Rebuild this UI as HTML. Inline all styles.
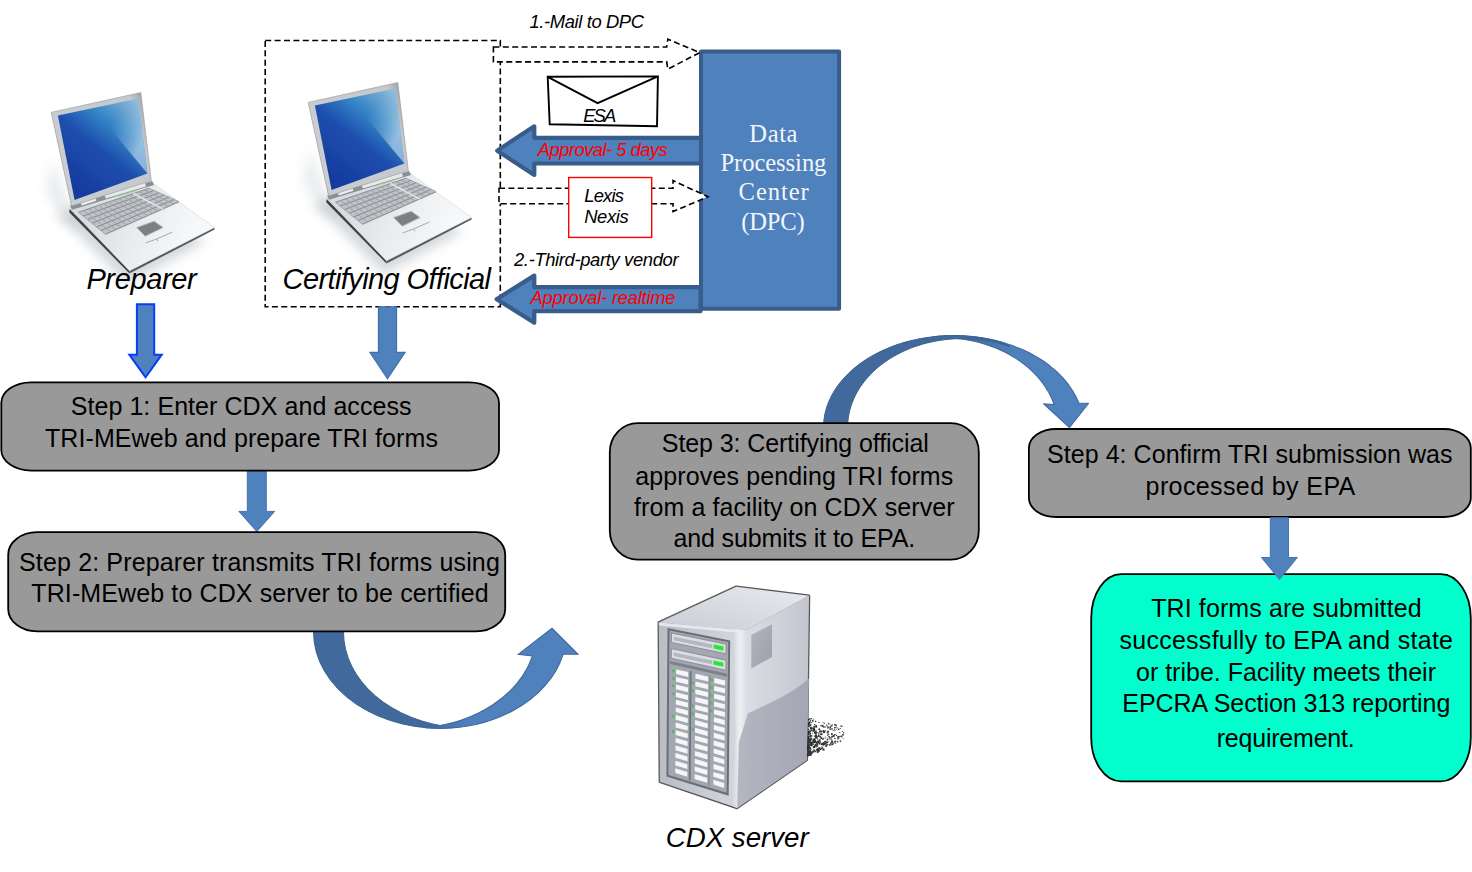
<!DOCTYPE html>
<html><head><meta charset="utf-8"><title>TRI-MEweb certification flow</title>
<style>html,body{margin:0;padding:0;background:#fff}svg{display:block}</style></head>
<body>
<svg width="1472" height="872" viewBox="0 0 1472 872">

<defs>
<filter id="blur6" x="-30%" y="-30%" width="160%" height="160%"><feGaussianBlur stdDeviation="6"/></filter>
<filter id="blur04" x="-5%" y="-5%" width="110%" height="110%"><feGaussianBlur stdDeviation=".45"/></filter>
<filter id="blur03" x="-20%" y="-20%" width="140%" height="140%"><feGaussianBlur stdDeviation=".35"/></filter>
<filter id="blur1" x="-10%" y="-10%" width="120%" height="120%"><feGaussianBlur stdDeviation=".5"/></filter>
<filter id="blur07" x="-10%" y="-10%" width="120%" height="120%"><feGaussianBlur stdDeviation=".7"/></filter>
<linearGradient id="lapBase" gradientUnits="userSpaceOnUse" x1="345" y1="200" x2="440" y2="245">
 <stop offset="0" stop-color="#d9dcdf"/><stop offset=".5" stop-color="#e9ebed"/><stop offset="1" stop-color="#f7f8f9"/></linearGradient>
<linearGradient id="lapEdgeL" gradientUnits="userSpaceOnUse" x1="326" y1="197" x2="389" y2="262">
 <stop offset="0" stop-color="#b5b9bd"/><stop offset="1" stop-color="#6d7074"/></linearGradient>
<linearGradient id="lapLid" gradientUnits="userSpaceOnUse" x1="308" y1="150" x2="408" y2="120">
 <stop offset="0" stop-color="#9da2a7"/><stop offset=".08" stop-color="#c9cdd0"/><stop offset=".9" stop-color="#c5c9cd"/><stop offset="1" stop-color="#a4a9ae"/></linearGradient>
<linearGradient id="lapScr" gradientUnits="userSpaceOnUse" x1="335" y1="178" x2="400" y2="95">
 <stop offset="0" stop-color="#173b9f"/><stop offset=".42" stop-color="#1d4fae"/><stop offset=".68" stop-color="#3585c6"/><stop offset="1" stop-color="#8dbad8"/></linearGradient>
<linearGradient id="lapGl" gradientUnits="userSpaceOnUse" x1="370" y1="110" x2="402" y2="125">
 <stop offset="0" stop-color="#7fb4d8" stop-opacity="0"/><stop offset="1" stop-color="#cfe4f1" stop-opacity="1"/></linearGradient>
<linearGradient id="srvFront" x1="0" y1="0" x2="1" y2="0"><stop offset="0" stop-color="#b9bdc6"/><stop offset="1" stop-color="#d4d7de"/></linearGradient>
<linearGradient id="srvTop" x1="0" y1="1" x2="1" y2="0"><stop offset="0" stop-color="#c9ccd4"/><stop offset="1" stop-color="#e8eaee"/></linearGradient>
<linearGradient id="srvSide" x1="0" y1="0" x2="1" y2="0"><stop offset="0" stop-color="#dfe1e7"/><stop offset="1" stop-color="#c3c6cf"/></linearGradient>
<linearGradient id="srvSide2" x1="0" y1="0" x2="1" y2="0"><stop offset="0" stop-color="#b4b7c2"/><stop offset="1" stop-color="#a4a7b3"/></linearGradient>
<linearGradient id="srvVent" x1="0" y1="0" x2="1" y2="1"><stop offset="0" stop-color="#b3b5be"/><stop offset="1" stop-color="#9c9ea8"/></linearGradient>
<linearGradient id="srvBev" x1="0" y1="0" x2="1" y2="0"><stop offset="0" stop-color="#d3d6dc"/><stop offset=".5" stop-color="#eff0f3"/><stop offset="1" stop-color="#d9dbe1"/></linearGradient>
<linearGradient id="cdGrad" gradientUnits="userSpaceOnUse" x1="965" y1="0" x2="1015" y2="0"><stop offset="0" stop-color="#41699c"/><stop offset="1" stop-color="#4f81bd"/></linearGradient>
<linearGradient id="cuGrad" gradientUnits="userSpaceOnUse" x1="420" y1="0" x2="470" y2="0"><stop offset="0" stop-color="#41699c"/><stop offset="1" stop-color="#4f81bd"/></linearGradient>
</defs>

<rect width="1472" height="872" fill="#fff"/>
<rect x="265.2" y="40.5" width="235.1" height="266.3" fill="none" stroke="#000" stroke-width="1.6" stroke-dasharray="6 3.4"/>
<g transform="translate(-257,10)" filter="url(#blur03)">
<polygon points="314,203 384,274 462,232 400,186" fill="#8d98a3" opacity=".38" filter="url(#blur6)"/>
<polygon points="310,150 328,198 346,215 322,215 303,180" fill="#9aa4ad" opacity=".22" filter="url(#blur6)"/>
<polygon points="326.7,199 386.5,260.8 386.5,263.6 326.2,202.2" fill="#3f4144"/>
<polygon points="386.5,260.8 471.4,217.4 471.6,219.4 386.5,263.6" fill="#55585c"/>
<polygon points="326.7,198 410.4,173.5 471.4,217.4 386.5,260.8" fill="url(#lapBase)" stroke="#d2d5d8" stroke-width=".6"/>
<polygon points="335.5,202.2 406.0,178.2 436.0,191.7 362.5,224.3" fill="#bfc3c7"/>
<line x1="335.5" y1="202.2" x2="406.0" y2="178.2" stroke="#8b9095" stroke-width="1.1"/>
<line x1="340.0" y1="205.9" x2="411.0" y2="180.4" stroke="#8b9095" stroke-width="1.1"/>
<line x1="344.5" y1="209.6" x2="416.0" y2="182.7" stroke="#8b9095" stroke-width="1.1"/>
<line x1="349.0" y1="213.2" x2="421.0" y2="184.9" stroke="#8b9095" stroke-width="1.1"/>
<line x1="353.5" y1="216.9" x2="426.0" y2="187.2" stroke="#8b9095" stroke-width="1.1"/>
<line x1="358.0" y1="220.6" x2="431.0" y2="189.4" stroke="#8b9095" stroke-width="1.1"/>
<line x1="362.5" y1="224.3" x2="436.0" y2="191.7" stroke="#8b9095" stroke-width="1.1"/>
<line x1="335.5" y1="202.2" x2="362.5" y2="224.3" stroke="#9a9fa4" stroke-width=".9"/>
<line x1="340.5" y1="200.5" x2="367.8" y2="222.0" stroke="#9a9fa4" stroke-width=".9"/>
<line x1="345.6" y1="198.8" x2="373.0" y2="219.6" stroke="#9a9fa4" stroke-width=".9"/>
<line x1="350.6" y1="197.1" x2="378.2" y2="217.3" stroke="#9a9fa4" stroke-width=".9"/>
<line x1="355.6" y1="195.3" x2="383.5" y2="215.0" stroke="#9a9fa4" stroke-width=".9"/>
<line x1="360.7" y1="193.6" x2="388.8" y2="212.7" stroke="#9a9fa4" stroke-width=".9"/>
<line x1="365.7" y1="191.9" x2="394.0" y2="210.3" stroke="#9a9fa4" stroke-width=".9"/>
<line x1="370.8" y1="190.2" x2="399.2" y2="208.0" stroke="#9a9fa4" stroke-width=".9"/>
<line x1="375.8" y1="188.5" x2="404.5" y2="205.7" stroke="#9a9fa4" stroke-width=".9"/>
<line x1="380.8" y1="186.8" x2="409.8" y2="203.3" stroke="#9a9fa4" stroke-width=".9"/>
<line x1="385.9" y1="185.1" x2="415.0" y2="201.0" stroke="#9a9fa4" stroke-width=".9"/>
<line x1="390.9" y1="183.3" x2="420.2" y2="198.7" stroke="#9a9fa4" stroke-width=".9"/>
<line x1="395.9" y1="181.6" x2="425.5" y2="196.4" stroke="#9a9fa4" stroke-width=".9"/>
<line x1="401.0" y1="179.9" x2="430.8" y2="194.0" stroke="#9a9fa4" stroke-width=".9"/>
<line x1="406.0" y1="178.2" x2="436.0" y2="191.7" stroke="#9a9fa4" stroke-width=".9"/>
<line x1="390.5" y1="183.5" x2="419.8" y2="198.9" stroke="#e3e5e8" stroke-width="1.6"/>
<polygon points="393.6,217.6 411.2,211.2 420,217.6 402.2,226.2" fill="#7b8083" stroke="#b4b8bb" stroke-width=".9"/>
<path d="M402.5,233 l11,-4 l1.5,2.2 M413.5,229 l16,-7" stroke="#a6aaae" stroke-width="1" fill="none"/>
<polygon points="327,195.5 409.2,171 411,175 329,199.8" fill="#8a8f94"/>
<polygon points="337.5,192 352.5,187.6 353.3,190.8 338.8,195.4" fill="#eceef0"/>
<polygon points="361.5,185 402,173 403,176.4 362.8,188.6" fill="#e6e8ea"/>
<polygon points="374,185.4 394,179.4 394.4,181 374.6,187" fill="#7fd07a" opacity=".55"/>
<polygon points="308.2,102.4 397.8,82.6 408.3,170.5 328.6,196" fill="url(#lapLid)" stroke="#9a9fa4" stroke-width=".7"/>
<polygon points="314.9,105.6 395.4,88.4 404.4,163.5 331.6,190" fill="url(#lapScr)"/>
<polygon points="404.4,163.5 395.4,88.4 350,98" fill="url(#lapGl)" opacity=".6"/>
</g>
<g transform="translate(0,0)" filter="url(#blur03)">
<polygon points="314,203 384,274 462,232 400,186" fill="#8d98a3" opacity=".38" filter="url(#blur6)"/>
<polygon points="310,150 328,198 346,215 322,215 303,180" fill="#9aa4ad" opacity=".22" filter="url(#blur6)"/>
<polygon points="326.7,199 386.5,260.8 386.5,263.6 326.2,202.2" fill="#3f4144"/>
<polygon points="386.5,260.8 471.4,217.4 471.6,219.4 386.5,263.6" fill="#55585c"/>
<polygon points="326.7,198 410.4,173.5 471.4,217.4 386.5,260.8" fill="url(#lapBase)" stroke="#d2d5d8" stroke-width=".6"/>
<polygon points="335.5,202.2 406.0,178.2 436.0,191.7 362.5,224.3" fill="#bfc3c7"/>
<line x1="335.5" y1="202.2" x2="406.0" y2="178.2" stroke="#8b9095" stroke-width="1.1"/>
<line x1="340.0" y1="205.9" x2="411.0" y2="180.4" stroke="#8b9095" stroke-width="1.1"/>
<line x1="344.5" y1="209.6" x2="416.0" y2="182.7" stroke="#8b9095" stroke-width="1.1"/>
<line x1="349.0" y1="213.2" x2="421.0" y2="184.9" stroke="#8b9095" stroke-width="1.1"/>
<line x1="353.5" y1="216.9" x2="426.0" y2="187.2" stroke="#8b9095" stroke-width="1.1"/>
<line x1="358.0" y1="220.6" x2="431.0" y2="189.4" stroke="#8b9095" stroke-width="1.1"/>
<line x1="362.5" y1="224.3" x2="436.0" y2="191.7" stroke="#8b9095" stroke-width="1.1"/>
<line x1="335.5" y1="202.2" x2="362.5" y2="224.3" stroke="#9a9fa4" stroke-width=".9"/>
<line x1="340.5" y1="200.5" x2="367.8" y2="222.0" stroke="#9a9fa4" stroke-width=".9"/>
<line x1="345.6" y1="198.8" x2="373.0" y2="219.6" stroke="#9a9fa4" stroke-width=".9"/>
<line x1="350.6" y1="197.1" x2="378.2" y2="217.3" stroke="#9a9fa4" stroke-width=".9"/>
<line x1="355.6" y1="195.3" x2="383.5" y2="215.0" stroke="#9a9fa4" stroke-width=".9"/>
<line x1="360.7" y1="193.6" x2="388.8" y2="212.7" stroke="#9a9fa4" stroke-width=".9"/>
<line x1="365.7" y1="191.9" x2="394.0" y2="210.3" stroke="#9a9fa4" stroke-width=".9"/>
<line x1="370.8" y1="190.2" x2="399.2" y2="208.0" stroke="#9a9fa4" stroke-width=".9"/>
<line x1="375.8" y1="188.5" x2="404.5" y2="205.7" stroke="#9a9fa4" stroke-width=".9"/>
<line x1="380.8" y1="186.8" x2="409.8" y2="203.3" stroke="#9a9fa4" stroke-width=".9"/>
<line x1="385.9" y1="185.1" x2="415.0" y2="201.0" stroke="#9a9fa4" stroke-width=".9"/>
<line x1="390.9" y1="183.3" x2="420.2" y2="198.7" stroke="#9a9fa4" stroke-width=".9"/>
<line x1="395.9" y1="181.6" x2="425.5" y2="196.4" stroke="#9a9fa4" stroke-width=".9"/>
<line x1="401.0" y1="179.9" x2="430.8" y2="194.0" stroke="#9a9fa4" stroke-width=".9"/>
<line x1="406.0" y1="178.2" x2="436.0" y2="191.7" stroke="#9a9fa4" stroke-width=".9"/>
<line x1="390.5" y1="183.5" x2="419.8" y2="198.9" stroke="#e3e5e8" stroke-width="1.6"/>
<polygon points="393.6,217.6 411.2,211.2 420,217.6 402.2,226.2" fill="#7b8083" stroke="#b4b8bb" stroke-width=".9"/>
<path d="M402.5,233 l11,-4 l1.5,2.2 M413.5,229 l16,-7" stroke="#a6aaae" stroke-width="1" fill="none"/>
<polygon points="327,195.5 409.2,171 411,175 329,199.8" fill="#8a8f94"/>
<polygon points="337.5,192 352.5,187.6 353.3,190.8 338.8,195.4" fill="#eceef0"/>
<polygon points="361.5,185 402,173 403,176.4 362.8,188.6" fill="#e6e8ea"/>
<polygon points="374,185.4 394,179.4 394.4,181 374.6,187" fill="#7fd07a" opacity=".55"/>
<polygon points="308.2,102.4 397.8,82.6 408.3,170.5 328.6,196" fill="url(#lapLid)" stroke="#9a9fa4" stroke-width=".7"/>
<polygon points="314.9,105.6 395.4,88.4 404.4,163.5 331.6,190" fill="url(#lapScr)"/>
<polygon points="404.4,163.5 395.4,88.4 350,98" fill="url(#lapGl)" opacity=".6"/>
</g>
<text x="86.4" y="289.2" font-family="'Liberation Sans','DejaVu Sans',sans-serif" font-size="29" font-style="italic" fill="#000" textLength="110.2" lengthAdjust="spacing">Preparer</text>
<text x="282.6" y="289.2" font-family="'Liberation Sans','DejaVu Sans',sans-serif" font-size="29" font-style="italic" fill="#000" textLength="208.4" lengthAdjust="spacing">Certifying Official</text>
<path d="M497.2,150.65 L534.3,126.35000000000001 L534.3,137.8 L702,137.8 L702,163.5 L534.3,163.5 L534.3,174.95000000000002 Z" fill="#4f81bd" stroke="#385d8a" stroke-width="4.2" stroke-linejoin="round"/>
<rect x="701" y="51.6" width="138.1" height="257.1" fill="#4f81bd" stroke="#385d8a" stroke-width="4" stroke-linejoin="round"/>
<path d="M496.6,299.2 L534.3,275.59999999999997 L534.3,287.2 L700.5,287.2 L700.5,311.2 L534.3,311.2 L534.3,322.8 Z" fill="#4f81bd" stroke="#385d8a" stroke-width="4.2" stroke-linejoin="round"/>
<text x="749.3" y="141.6" font-family="'Liberation Serif','DejaVu Serif',serif" font-size="24.6" font-style="normal" fill="#f4f6fa" textLength="48.2" lengthAdjust="spacing">Data</text>
<text x="720.4" y="171.0" font-family="'Liberation Serif','DejaVu Serif',serif" font-size="24.6" font-style="normal" fill="#f4f6fa" textLength="106.0" lengthAdjust="spacing">Processing</text>
<text x="738.6" y="200.2" font-family="'Liberation Serif','DejaVu Serif',serif" font-size="24.6" font-style="normal" fill="#f4f6fa" textLength="70.1" lengthAdjust="spacing">Center</text>
<text x="741.3" y="229.6" font-family="'Liberation Serif','DejaVu Serif',serif" font-size="24.6" font-style="normal" fill="#f4f6fa" textLength="63.4" lengthAdjust="spacing">(DPC)</text>
<path d="M493.4,47 L666.7,47 L667.8,39.2 L699.8,52.6 L667.8,69.1 L666.7,61.9 L493.4,61.9 Z" fill="#fff" stroke="#000" stroke-width="1.6" stroke-dasharray="6 3.4"/>
<path d="M499,188.3 L673,188.3 L673,180.6 L708,196.7 L673,211.6 L673,203.7 L499,203.7 Z" fill="#fff" stroke="#000" stroke-width="1.6" stroke-dasharray="6 3.4"/>
<rect x="568.7" y="177.5" width="83" height="59.9" fill="#fff" stroke="#f00" stroke-width="1.4"/>
<text x="584.2" y="201.9" font-family="'Liberation Sans','DejaVu Sans',sans-serif" font-size="18.4" font-style="italic" fill="#000" textLength="39.8" lengthAdjust="spacing">Lexis</text>
<text x="584.2" y="222.9" font-family="'Liberation Sans','DejaVu Sans',sans-serif" font-size="18.4" font-style="italic" fill="#000" textLength="44.4" lengthAdjust="spacing">Nexis</text>
<path d="M547.7,76.8 L657.9,76.4 L657,126.3 L549.7,124.2 Z M547.7,76.8 L597.6,103.2 L657.9,76.4" fill="#fff" stroke="#000" stroke-width="1.9" stroke-linejoin="miter"/>
<text x="583.2" y="121.7" font-family="'Liberation Sans','DejaVu Sans',sans-serif" font-size="18.4" font-style="italic" fill="#000" textLength="33.0" lengthAdjust="spacing">ESA</text>
<text x="529.5" y="27.9" font-family="'Liberation Sans','DejaVu Sans',sans-serif" font-size="18.4" font-style="italic" fill="#000" textLength="114.5" lengthAdjust="spacing">1.-Mail to DPC</text>
<text x="514.0" y="265.7" font-family="'Liberation Sans','DejaVu Sans',sans-serif" font-size="18.4" font-style="italic" fill="#000" textLength="164.5" lengthAdjust="spacing">2.-Third-party vendor</text>
<text x="537.8" y="155.8" font-family="'Liberation Sans','DejaVu Sans',sans-serif" font-size="18.4" font-style="italic" fill="#f00" textLength="130.0" lengthAdjust="spacing">Approval- 5 days</text>
<text x="530.6" y="304.2" font-family="'Liberation Sans','DejaVu Sans',sans-serif" font-size="18.4" font-style="italic" fill="#f00" textLength="145.0" lengthAdjust="spacing">Approval- realtime</text>
<path d="M136.9,304.2 L154.20000000000002,304.2 L154.20000000000002,354.7 L161.75,354.7 L145.55,377.4 L129.35000000000002,354.7 L136.9,354.7 Z" fill="#4f81bd" stroke="#0a3cff" stroke-width="2"/>
<path d="M378.5,306.8 L396.5,306.8 L396.5,352.3 L405.0,352.3 L387.5,378.6 L370.0,352.3 L378.5,352.3 Z" fill="#4f81bd" stroke="#4272ae" stroke-width="1.3"/>
<path d="M247.3,470.5 L266.3,470.5 L266.3,511.4 L274.7,511.4 L256.8,531.6 L238.9,511.4 L247.3,511.4 Z" fill="#4f81bd" stroke="#4473ad" stroke-width="1"/>
<path d="M313.5,632.0 A126.5,96.3 0 0 0 455.0,727.6 A126.5,96.3 0 0 1 343.5,632.0 Z" fill="#41699c" stroke="#3c6191" stroke-width="1"/>
<path d="M425.0,727.6 A126.5,96.3 0 0 0 563.1,654.3 L578,654.3 L552,628.3 L518.3,654.3 L532.5,656.0 A126.5,96.3 0 0 1 425.0,727.6 Z" fill="url(#cuGrad)" stroke="#416a9e" stroke-width="1.1"/>
<path d="M937.7,336.3 L941.5,336.0 L945.3,335.8 L949.2,335.7 L953.0,335.6 L956.9,335.6 L960.7,335.7 L964.6,335.9 L968.4,336.2 L972.2,336.6 L976.0,337.0 L979.8,337.5 L983.6,338.1 L987.3,338.8 L991.0,339.5 L994.7,340.3 L998.3,341.2 L1001.9,342.2 L1005.5,343.3 L1009.0,344.4 L1012.4,345.6 L1015.8,346.9 L1019.2,348.2 L1022.5,349.6 L1025.7,351.1 L1028.9,352.6 L1032.0,354.3 L1035.0,355.9 L1038.0,357.7 L1040.9,359.5 L1043.7,361.3 L1046.4,363.3 L1049.1,365.2 L1051.6,367.3 L1054.1,369.4 L1056.5,371.5 L1058.8,373.7 L1061.0,375.9 L1063.2,378.2 L1065.2,380.5 L1067.1,382.9 L1068.9,385.3 L1070.6,387.7 L1072.3,390.2 L1073.8,392.7 L1075.2,395.2 L1076.5,397.8 L1077.7,400.4 L1078.8,403.0 L1088.5,403.3 L1069.5,427.5 L1043.6,403.9 L1054.1,404.5 L1053.1,401.9 L1052.1,399.3 L1050.9,396.8 L1049.7,394.3 L1048.4,391.8 L1046.9,389.4 L1045.4,387.0 L1043.8,384.6 L1042.0,382.2 L1040.2,379.9 L1038.3,377.7 L1036.4,375.5 L1034.3,373.3 L1032.1,371.2 L1029.9,369.1 L1027.6,367.1 L1025.2,365.1 L1022.8,363.2 L1020.2,361.4 L1017.6,359.6 L1014.9,357.9 L1012.2,356.2 L1009.4,354.6 L1006.5,353.0 L1003.6,351.6 L1000.6,350.2 L997.6,348.8 L994.5,347.6 L991.4,346.4 L988.2,345.3 L985.0,344.2 L981.7,343.2 L978.4,342.3 L975.1,341.5 L971.8,340.8 L968.4,340.1 L965.0,339.5 L961.5,339.0 L958.1,338.6 L954.6,338.2 L951.2,337.9 L947.7,337.7 L944.2,337.6 L940.7,337.6 L937.2,337.6 L933.7,337.8 L930.2,338.0 L926.7,338.3 Z" fill="url(#cdGrad)" stroke="#416a9e" stroke-width="1.1" stroke-linejoin="round"/>
<path d="M823.6,425.0 L823.8,421.3 L824.3,417.6 L824.9,414.0 L825.8,410.3 L826.9,406.7 L828.2,403.1 L829.7,399.6 L831.4,396.1 L833.2,392.7 L835.3,389.3 L837.6,386.0 L840.0,382.7 L842.7,379.5 L845.5,376.4 L848.5,373.4 L851.6,370.4 L855.0,367.6 L858.4,364.8 L862.1,362.2 L865.9,359.6 L869.8,357.2 L873.8,354.9 L878.0,352.7 L882.3,350.6 L886.8,348.7 L891.3,346.8 L895.9,345.1 L900.6,343.5 L905.4,342.1 L910.3,340.8 L915.3,339.7 L920.3,338.6 L925.4,337.8 L930.5,337.1 L935.6,336.5 L940.8,336.0 L946.0,335.8 L951.2,335.6 L956.5,335.6 L961.7,335.8 L966.9,336.1 L972.0,336.5 L977.2,337.1 L982.3,337.9 L987.4,338.8 L992.4,339.8 L997.3,341.0 L1002.2,342.3 L1009.4,346.3 L1005.0,344.9 L1000.6,343.6 L996.2,342.5 L991.7,341.5 L987.1,340.6 L982.5,339.9 L977.8,339.4 L973.2,339.0 L968.5,338.7 L963.8,338.6 L959.1,338.6 L954.4,338.8 L949.7,339.2 L945.1,339.6 L940.5,340.3 L935.9,341.0 L931.3,342.0 L926.8,343.0 L922.4,344.2 L918.0,345.6 L913.7,347.0 L909.5,348.6 L905.4,350.4 L901.4,352.3 L897.5,354.3 L893.6,356.4 L889.9,358.6 L886.4,361.0 L882.9,363.4 L879.6,366.0 L876.4,368.7 L873.4,371.5 L870.5,374.3 L867.8,377.3 L865.2,380.3 L862.8,383.4 L860.5,386.6 L858.4,389.9 L856.5,393.2 L854.8,396.6 L853.3,400.0 L851.9,403.5 L850.7,407.0 L849.7,410.6 L848.9,414.1 L848.3,417.7 L847.9,421.4 L847.6,425.0 Z" fill="#41699c" stroke="#3c6191" stroke-width="1"/>
<rect x="1.3" y="382.3" width="497.7" height="88.3" rx="30" ry="20.5" fill="#999999" stroke="#000" stroke-width="1.8"/>
<text x="70.7" y="415.4" font-family="'Liberation Sans','DejaVu Sans',sans-serif" font-size="25" font-style="normal" fill="#000" textLength="340.8" lengthAdjust="spacing">Step 1: Enter CDX and access</text>
<text x="44.9" y="447.2" font-family="'Liberation Sans','DejaVu Sans',sans-serif" font-size="25" font-style="normal" fill="#000" textLength="393.0" lengthAdjust="spacing">TRI-MEweb and prepare TRI forms</text>
<rect x="8.2" y="532.2" width="497.0" height="99.2" rx="29" ry="22.5" fill="#999999" stroke="#000" stroke-width="1.8"/>
<text x="19.0" y="570.9" font-family="'Liberation Sans','DejaVu Sans',sans-serif" font-size="25" font-style="normal" fill="#000" textLength="480.8" lengthAdjust="spacing">Step 2: Preparer transmits TRI forms using</text>
<text x="31.3" y="602.3" font-family="'Liberation Sans','DejaVu Sans',sans-serif" font-size="25" font-style="normal" fill="#000" textLength="457.3" lengthAdjust="spacing">TRI-MEweb to CDX server to be certified</text>
<rect x="609.8" y="423.2" width="369.0" height="136.5" rx="28" ry="29" fill="#999999" stroke="#000" stroke-width="1.8"/>
<text x="661.8" y="452.0" font-family="'Liberation Sans','DejaVu Sans',sans-serif" font-size="25" font-style="normal" fill="#000" textLength="267.0" lengthAdjust="spacing">Step 3: Certifying official</text>
<text x="635.3" y="484.6" font-family="'Liberation Sans','DejaVu Sans',sans-serif" font-size="25" font-style="normal" fill="#000" textLength="318.0" lengthAdjust="spacing">approves pending TRI forms</text>
<text x="634.0" y="516.0" font-family="'Liberation Sans','DejaVu Sans',sans-serif" font-size="25" font-style="normal" fill="#000" textLength="320.6" lengthAdjust="spacing">from a facility on CDX server</text>
<text x="673.4" y="547.4" font-family="'Liberation Sans','DejaVu Sans',sans-serif" font-size="25" font-style="normal" fill="#000" textLength="241.8" lengthAdjust="spacing">and submits it to EPA.</text>
<rect x="1028.9" y="429" width="441.9" height="88.0" rx="27" ry="19" fill="#999999" stroke="#000" stroke-width="1.8"/>
<text x="1047.0" y="462.5" font-family="'Liberation Sans','DejaVu Sans',sans-serif" font-size="25" font-style="normal" fill="#000" textLength="405.5" lengthAdjust="spacing">Step 4: Confirm TRI submission was</text>
<text x="1145.6" y="494.5" font-family="'Liberation Sans','DejaVu Sans',sans-serif" font-size="25" font-style="normal" fill="#000" textLength="209.7" lengthAdjust="spacing">processed by EPA</text>
<rect x="1091.2" y="574.2" width="379.6" height="207.1" rx="30" ry="44" fill="#00ffcc" stroke="#000" stroke-width="1.8"/>
<text x="1151.2" y="617.3" font-family="'Liberation Sans','DejaVu Sans',sans-serif" font-size="25" font-style="normal" fill="#000" textLength="270.4" lengthAdjust="spacing">TRI forms are submitted</text>
<text x="1119.5" y="649.4" font-family="'Liberation Sans','DejaVu Sans',sans-serif" font-size="25" font-style="normal" fill="#000" textLength="333.5" lengthAdjust="spacing">successfully to EPA and state</text>
<text x="1136.0" y="680.5" font-family="'Liberation Sans','DejaVu Sans',sans-serif" font-size="25" font-style="normal" fill="#000" textLength="300.0" lengthAdjust="spacing">or tribe. Facility meets their</text>
<text x="1122.3" y="712.2" font-family="'Liberation Sans','DejaVu Sans',sans-serif" font-size="25" font-style="normal" fill="#000" textLength="328.0" lengthAdjust="spacing">EPCRA Section 313 reporting</text>
<text x="1216.7" y="746.9" font-family="'Liberation Sans','DejaVu Sans',sans-serif" font-size="25" font-style="normal" fill="#000" textLength="138.0" lengthAdjust="spacing">requirement.</text>
<path d="M1270.3000000000002,517.7 L1288.5,517.7 L1288.5,557.5 L1297.4,557.5 L1279.4,579.5 L1261.4,557.5 L1270.3000000000002,557.5 Z" fill="#4f81bd" stroke="#4473ad" stroke-width="1"/>
<g filter="url(#blur04)"><g fill="#111" opacity=".85"><rect x="830.5" y="724.7" width="0.8" height="0.8"/><rect x="818.3" y="747.3" width="2.0" height="2.0"/><rect x="821.5" y="724.9" width="2.0" height="2.0"/><rect x="820.8" y="743.1" width="2.0" height="2.0"/><rect x="816.8" y="740.6" width="1.3" height="1.3"/><rect x="808.9" y="752.3" width="1.6" height="1.6"/><rect x="842.1" y="731.1" width="1.0" height="1.0"/><rect x="829.7" y="728.6" width="1.2" height="1.2"/><rect x="807.8" y="744.3" width="1.6" height="1.6"/><rect x="807.8" y="741.9" width="1.6" height="1.6"/><rect x="820.9" y="737.1" width="1.1" height="1.1"/><rect x="811.4" y="728.6" width="0.9" height="0.9"/><rect x="808.9" y="741.4" width="1.3" height="1.3"/><rect x="831.9" y="728.3" width="1.0" height="1.0"/><rect x="807.3" y="718.7" width="2.0" height="2.0"/><rect x="809.8" y="748.2" width="1.3" height="1.3"/><rect x="837.8" y="737.3" width="1.5" height="1.5"/><rect x="814.9" y="720.8" width="1.3" height="1.3"/><rect x="818.0" y="750.0" width="1.1" height="1.1"/><rect x="825.1" y="736.6" width="0.8" height="0.8"/><rect x="807.0" y="736.4" width="1.6" height="1.6"/><rect x="812.8" y="718.7" width="0.9" height="0.9"/><rect x="807.3" y="746.1" width="2.0" height="2.0"/><rect x="807.6" y="747.2" width="1.6" height="1.6"/><rect x="824.5" y="726.5" width="1.2" height="1.2"/><rect x="811.4" y="741.9" width="1.6" height="1.6"/><rect x="831.1" y="739.4" width="1.0" height="1.0"/><rect x="812.9" y="738.7" width="1.1" height="1.1"/><rect x="833.3" y="736.1" width="0.8" height="0.8"/><rect x="819.3" y="739.3" width="1.1" height="1.1"/><rect x="807.0" y="749.3" width="1.1" height="1.1"/><rect x="830.7" y="744.6" width="0.8" height="0.8"/><rect x="840.7" y="735.5" width="1.5" height="1.5"/><rect x="816.8" y="751.3" width="1.1" height="1.1"/><rect x="807.4" y="753.2" width="1.1" height="1.1"/><rect x="816.9" y="745.6" width="1.3" height="1.3"/><rect x="818.7" y="743.4" width="0.9" height="0.9"/><rect x="809.0" y="750.1" width="0.9" height="0.9"/><rect x="810.5" y="744.4" width="2.0" height="2.0"/><rect x="817.3" y="748.2" width="1.6" height="1.6"/><rect x="810.1" y="736.0" width="0.9" height="0.9"/><rect x="816.9" y="738.7" width="0.9" height="0.9"/><rect x="807.2" y="737.9" width="1.6" height="1.6"/><rect x="810.0" y="735.1" width="1.6" height="1.6"/><rect x="841.9" y="725.9" width="0.8" height="0.8"/><rect x="807.7" y="736.7" width="1.1" height="1.1"/><rect x="825.6" y="744.2" width="1.5" height="1.5"/><rect x="834.6" y="734.0" width="1.0" height="1.0"/><rect x="836.1" y="726.4" width="0.8" height="0.8"/><rect x="814.1" y="745.5" width="1.6" height="1.6"/><rect x="822.1" y="743.3" width="2.0" height="2.0"/><rect x="816.9" y="741.3" width="0.9" height="0.9"/><rect x="821.4" y="746.5" width="1.1" height="1.1"/><rect x="842.8" y="738.3" width="0.8" height="0.8"/><rect x="807.8" y="743.3" width="0.9" height="0.9"/><rect x="814.3" y="739.0" width="0.9" height="0.9"/><rect x="827.6" y="731.8" width="1.0" height="1.0"/><rect x="807.4" y="747.7" width="0.9" height="0.9"/><rect x="809.8" y="751.4" width="1.1" height="1.1"/><rect x="819.5" y="736.0" width="1.6" height="1.6"/><rect x="827.5" y="728.2" width="0.8" height="0.8"/><rect x="828.7" y="737.5" width="1.2" height="1.2"/><rect x="809.6" y="751.2" width="2.0" height="2.0"/><rect x="813.0" y="751.1" width="1.1" height="1.1"/><rect x="814.3" y="735.4" width="1.6" height="1.6"/><rect x="820.7" y="730.9" width="1.3" height="1.3"/><rect x="813.1" y="749.6" width="0.9" height="0.9"/><rect x="820.0" y="741.6" width="1.1" height="1.1"/><rect x="831.8" y="735.9" width="1.5" height="1.5"/><rect x="815.2" y="725.6" width="2.0" height="2.0"/><rect x="808.1" y="731.0" width="1.6" height="1.6"/><rect x="814.0" y="745.1" width="1.1" height="1.1"/><rect x="840.3" y="736.4" width="0.8" height="0.8"/><rect x="826.8" y="739.2" width="1.2" height="1.2"/><rect x="828.3" y="726.6" width="1.0" height="1.0"/><rect x="835.6" y="724.6" width="1.2" height="1.2"/><rect x="809.8" y="718.5" width="1.1" height="1.1"/><rect x="818.4" y="721.9" width="1.1" height="1.1"/><rect x="818.7" y="739.2" width="1.6" height="1.6"/><rect x="807.8" y="750.6" width="1.6" height="1.6"/><rect x="808.9" y="733.3" width="1.1" height="1.1"/><rect x="807.4" y="750.9" width="0.9" height="0.9"/><rect x="815.5" y="746.2" width="1.3" height="1.3"/><rect x="808.9" y="742.3" width="1.3" height="1.3"/><rect x="816.6" y="743.9" width="1.1" height="1.1"/><rect x="809.0" y="742.1" width="0.9" height="0.9"/><rect x="837.0" y="736.4" width="1.2" height="1.2"/><rect x="827.1" y="734.6" width="1.2" height="1.2"/><rect x="807.0" y="743.3" width="1.1" height="1.1"/><rect x="827.5" y="730.9" width="1.0" height="1.0"/><rect x="833.0" y="734.9" width="1.5" height="1.5"/><rect x="835.7" y="729.2" width="0.8" height="0.8"/><rect x="823.2" y="743.1" width="2.0" height="2.0"/><rect x="810.8" y="737.6" width="1.3" height="1.3"/><rect x="827.4" y="744.0" width="1.0" height="1.0"/><rect x="807.4" y="748.7" width="1.1" height="1.1"/><rect x="816.4" y="748.6" width="1.6" height="1.6"/><rect x="813.7" y="746.9" width="0.9" height="0.9"/><rect x="826.0" y="742.1" width="1.5" height="1.5"/><rect x="837.9" y="728.6" width="1.5" height="1.5"/><rect x="815.7" y="743.1" width="1.1" height="1.1"/><rect x="829.5" y="726.5" width="1.5" height="1.5"/><rect x="822.0" y="747.3" width="1.3" height="1.3"/><rect x="823.6" y="742.0" width="1.0" height="1.0"/><rect x="813.4" y="725.9" width="1.6" height="1.6"/><rect x="807.9" y="752.0" width="1.1" height="1.1"/><rect x="822.5" y="748.6" width="2.0" height="2.0"/><rect x="807.1" y="739.2" width="1.1" height="1.1"/><rect x="807.4" y="735.6" width="2.0" height="2.0"/><rect x="818.5" y="735.3" width="1.1" height="1.1"/><rect x="813.9" y="749.9" width="1.6" height="1.6"/><rect x="808.9" y="737.8" width="1.1" height="1.1"/><rect x="823.9" y="722.8" width="1.0" height="1.0"/><rect x="807.5" y="732.2" width="0.9" height="0.9"/><rect x="810.7" y="730.0" width="0.9" height="0.9"/><rect x="811.4" y="752.0" width="1.3" height="1.3"/><rect x="814.9" y="731.6" width="2.0" height="2.0"/><rect x="807.3" y="752.8" width="2.0" height="2.0"/><rect x="807.9" y="724.9" width="1.6" height="1.6"/><rect x="816.1" y="749.2" width="1.6" height="1.6"/><rect x="809.5" y="754.3" width="1.3" height="1.3"/><rect x="808.7" y="753.1" width="1.1" height="1.1"/><rect x="813.9" y="729.9" width="1.3" height="1.3"/><rect x="810.0" y="750.3" width="1.1" height="1.1"/><rect x="809.4" y="738.7" width="0.9" height="0.9"/><rect x="807.7" y="748.9" width="1.3" height="1.3"/><rect x="808.5" y="738.1" width="0.9" height="0.9"/><rect x="822.6" y="742.1" width="1.6" height="1.6"/><rect x="809.9" y="738.6" width="0.9" height="0.9"/><rect x="826.6" y="741.5" width="1.5" height="1.5"/><rect x="817.8" y="736.0" width="0.9" height="0.9"/><rect x="816.9" y="732.0" width="0.9" height="0.9"/><rect x="813.3" y="726.5" width="1.3" height="1.3"/><rect x="809.1" y="745.5" width="0.9" height="0.9"/><rect x="807.4" y="747.7" width="2.0" height="2.0"/><rect x="819.8" y="733.6" width="1.3" height="1.3"/><rect x="815.0" y="736.5" width="2.0" height="2.0"/><rect x="811.0" y="729.6" width="1.6" height="1.6"/><rect x="834.4" y="741.3" width="1.0" height="1.0"/><rect x="831.9" y="743.6" width="1.5" height="1.5"/><rect x="839.3" y="732.0" width="1.0" height="1.0"/><rect x="810.0" y="744.2" width="1.3" height="1.3"/><rect x="835.9" y="734.9" width="1.2" height="1.2"/><rect x="836.6" y="727.4" width="1.0" height="1.0"/><rect x="807.1" y="740.3" width="1.3" height="1.3"/><rect x="814.1" y="738.0" width="1.1" height="1.1"/><rect x="812.9" y="750.8" width="1.1" height="1.1"/><rect x="811.2" y="735.3" width="1.3" height="1.3"/><rect x="817.6" y="749.5" width="1.1" height="1.1"/><rect x="834.0" y="735.5" width="1.0" height="1.0"/><rect x="835.2" y="727.2" width="0.8" height="0.8"/><rect x="821.2" y="743.7" width="1.3" height="1.3"/><rect x="834.2" y="724.1" width="1.0" height="1.0"/><rect x="807.4" y="748.8" width="1.3" height="1.3"/><rect x="820.6" y="733.6" width="1.6" height="1.6"/><rect x="827.9" y="722.9" width="1.0" height="1.0"/><rect x="807.4" y="738.5" width="0.9" height="0.9"/><rect x="807.6" y="750.1" width="0.9" height="0.9"/><rect x="842.2" y="734.1" width="1.5" height="1.5"/><rect x="807.1" y="733.2" width="2.0" height="2.0"/><rect x="831.1" y="733.3" width="1.5" height="1.5"/><rect x="818.3" y="732.6" width="1.3" height="1.3"/><rect x="812.3" y="727.8" width="1.1" height="1.1"/><rect x="823.1" y="726.8" width="0.9" height="0.9"/><rect x="808.0" y="753.1" width="1.1" height="1.1"/><rect x="826.7" y="744.5" width="1.2" height="1.2"/><rect x="816.0" y="741.8" width="2.0" height="2.0"/><rect x="809.8" y="744.5" width="1.1" height="1.1"/><rect x="828.0" y="733.7" width="1.2" height="1.2"/><rect x="819.1" y="730.6" width="1.3" height="1.3"/><rect x="809.3" y="741.1" width="1.6" height="1.6"/><rect x="807.6" y="736.1" width="1.3" height="1.3"/><rect x="810.4" y="743.5" width="1.6" height="1.6"/><rect x="808.7" y="746.4" width="1.1" height="1.1"/><rect x="831.1" y="733.3" width="1.2" height="1.2"/><rect x="815.7" y="729.7" width="0.9" height="0.9"/><rect x="807.1" y="729.5" width="1.3" height="1.3"/><rect x="809.9" y="742.3" width="1.6" height="1.6"/><rect x="807.0" y="744.5" width="0.9" height="0.9"/><rect x="822.1" y="738.2" width="1.6" height="1.6"/><rect x="815.0" y="751.1" width="1.1" height="1.1"/><rect x="810.0" y="727.1" width="2.0" height="2.0"/><rect x="807.0" y="738.1" width="1.1" height="1.1"/><rect x="825.1" y="742.2" width="0.8" height="0.8"/><rect x="816.4" y="737.4" width="1.3" height="1.3"/><rect x="812.4" y="741.7" width="1.1" height="1.1"/><rect x="831.9" y="741.9" width="1.5" height="1.5"/><rect x="817.2" y="741.0" width="2.0" height="2.0"/><rect x="834.8" y="740.5" width="1.2" height="1.2"/><rect x="809.7" y="741.1" width="1.3" height="1.3"/><rect x="808.5" y="749.8" width="2.0" height="2.0"/><rect x="831.0" y="725.5" width="1.2" height="1.2"/><rect x="809.3" y="724.3" width="2.0" height="2.0"/><rect x="810.0" y="727.6" width="1.6" height="1.6"/><rect x="813.0" y="742.0" width="1.1" height="1.1"/><rect x="826.2" y="724.6" width="1.2" height="1.2"/><rect x="834.1" y="726.9" width="1.5" height="1.5"/><rect x="830.9" y="741.3" width="1.5" height="1.5"/><rect x="826.7" y="731.9" width="1.5" height="1.5"/><rect x="810.0" y="738.6" width="1.6" height="1.6"/><rect x="812.4" y="727.3" width="0.9" height="0.9"/><rect x="807.0" y="746.6" width="0.9" height="0.9"/><rect x="808.8" y="750.1" width="1.6" height="1.6"/><rect x="809.7" y="724.5" width="1.1" height="1.1"/><rect x="826.8" y="726.1" width="1.0" height="1.0"/><rect x="818.3" y="740.6" width="0.9" height="0.9"/><rect x="830.5" y="739.1" width="0.8" height="0.8"/><rect x="813.7" y="749.4" width="0.9" height="0.9"/><rect x="812.4" y="740.7" width="1.3" height="1.3"/><rect x="807.2" y="742.4" width="1.3" height="1.3"/><rect x="811.6" y="744.6" width="1.1" height="1.1"/><rect x="818.6" y="740.7" width="0.9" height="0.9"/><rect x="808.1" y="731.4" width="0.9" height="0.9"/><rect x="807.0" y="736.5" width="1.3" height="1.3"/><rect x="807.0" y="723.6" width="2.0" height="2.0"/><rect x="807.5" y="755.3" width="1.1" height="1.1"/><rect x="831.6" y="724.4" width="1.2" height="1.2"/><rect x="807.0" y="745.4" width="0.9" height="0.9"/><rect x="814.0" y="731.7" width="2.0" height="2.0"/><rect x="817.9" y="733.7" width="0.9" height="0.9"/><rect x="820.6" y="747.7" width="1.6" height="1.6"/><rect x="807.1" y="754.7" width="1.6" height="1.6"/><rect x="830.3" y="725.8" width="0.8" height="0.8"/><rect x="817.2" y="751.0" width="0.9" height="0.9"/><rect x="837.2" y="738.3" width="1.2" height="1.2"/><rect x="813.9" y="739.6" width="2.0" height="2.0"/><rect x="815.5" y="735.1" width="1.1" height="1.1"/><rect x="812.8" y="746.9" width="1.3" height="1.3"/><rect x="823.5" y="726.6" width="1.0" height="1.0"/><rect x="808.3" y="739.3" width="1.3" height="1.3"/><rect x="807.6" y="753.4" width="1.3" height="1.3"/><rect x="810.9" y="718.0" width="1.1" height="1.1"/><rect x="827.4" y="730.7" width="1.5" height="1.5"/><rect x="812.7" y="739.7" width="1.1" height="1.1"/><rect x="817.0" y="749.5" width="1.6" height="1.6"/><rect x="809.3" y="739.1" width="1.3" height="1.3"/><rect x="809.2" y="735.3" width="1.6" height="1.6"/><rect x="820.9" y="733.4" width="1.6" height="1.6"/><rect x="810.0" y="742.1" width="2.0" height="2.0"/><rect x="809.5" y="732.8" width="1.3" height="1.3"/><rect x="813.0" y="728.0" width="2.0" height="2.0"/><rect x="807.5" y="742.5" width="1.1" height="1.1"/><rect x="807.4" y="731.0" width="2.0" height="2.0"/><rect x="811.1" y="742.2" width="1.1" height="1.1"/><rect x="813.4" y="741.1" width="2.0" height="2.0"/><rect x="808.9" y="731.3" width="1.6" height="1.6"/><rect x="807.4" y="747.8" width="2.0" height="2.0"/><rect x="841.7" y="736.6" width="0.8" height="0.8"/><rect x="809.5" y="739.5" width="1.1" height="1.1"/><rect x="820.3" y="725.1" width="1.1" height="1.1"/><rect x="808.1" y="754.4" width="1.6" height="1.6"/><rect x="807.6" y="748.8" width="0.9" height="0.9"/><rect x="827.3" y="739.4" width="0.8" height="0.8"/><rect x="813.1" y="728.7" width="2.0" height="2.0"/><rect x="807.6" y="752.6" width="1.6" height="1.6"/><rect x="808.8" y="754.9" width="1.1" height="1.1"/><rect x="807.2" y="737.5" width="1.6" height="1.6"/><rect x="812.6" y="739.1" width="2.0" height="2.0"/><rect x="825.2" y="743.3" width="0.8" height="0.8"/><rect x="828.3" y="723.3" width="1.2" height="1.2"/><rect x="823.0" y="731.1" width="2.0" height="2.0"/><rect x="832.7" y="730.0" width="1.0" height="1.0"/><rect x="830.2" y="737.1" width="1.5" height="1.5"/><rect x="807.1" y="741.3" width="1.3" height="1.3"/><rect x="828.3" y="736.0" width="1.5" height="1.5"/><rect x="814.7" y="744.0" width="1.6" height="1.6"/><rect x="824.4" y="742.6" width="0.8" height="0.8"/><rect x="832.9" y="743.0" width="0.8" height="0.8"/><rect x="807.4" y="729.5" width="0.9" height="0.9"/><rect x="836.7" y="740.9" width="1.5" height="1.5"/><rect x="816.5" y="741.5" width="1.6" height="1.6"/><rect x="807.5" y="745.8" width="2.0" height="2.0"/><rect x="815.4" y="744.5" width="1.6" height="1.6"/><rect x="811.4" y="743.0" width="1.3" height="1.3"/><rect x="812.0" y="732.7" width="0.9" height="0.9"/><rect x="831.0" y="728.4" width="1.0" height="1.0"/><rect x="807.1" y="744.2" width="2.0" height="2.0"/><rect x="834.5" y="738.1" width="1.0" height="1.0"/><rect x="834.3" y="737.9" width="1.0" height="1.0"/><rect x="809.9" y="720.3" width="1.3" height="1.3"/><rect x="832.1" y="734.6" width="0.8" height="0.8"/><rect x="818.5" y="742.4" width="2.0" height="2.0"/><rect x="829.5" y="728.4" width="1.2" height="1.2"/><rect x="824.8" y="730.4" width="1.2" height="1.2"/><rect x="819.4" y="730.4" width="2.0" height="2.0"/><rect x="807.6" y="753.4" width="0.9" height="0.9"/><rect x="814.6" y="741.6" width="1.3" height="1.3"/><rect x="807.5" y="722.3" width="1.6" height="1.6"/><rect x="807.0" y="753.6" width="0.9" height="0.9"/><rect x="807.8" y="728.6" width="1.3" height="1.3"/><rect x="840.7" y="725.6" width="1.2" height="1.2"/><rect x="840.6" y="725.4" width="1.0" height="1.0"/><rect x="828.5" y="741.4" width="0.8" height="0.8"/><rect x="809.3" y="730.5" width="1.6" height="1.6"/><rect x="807.0" y="747.0" width="2.0" height="2.0"/><rect x="812.5" y="743.7" width="1.3" height="1.3"/><rect x="808.3" y="722.9" width="1.6" height="1.6"/><rect x="809.1" y="752.0" width="2.0" height="2.0"/><rect x="809.8" y="736.9" width="0.9" height="0.9"/><rect x="808.5" y="726.0" width="1.3" height="1.3"/><rect x="827.6" y="726.9" width="1.0" height="1.0"/><rect x="807.8" y="747.5" width="1.3" height="1.3"/><rect x="819.2" y="748.6" width="0.9" height="0.9"/><rect x="814.2" y="724.0" width="1.1" height="1.1"/><rect x="811.8" y="751.3" width="1.3" height="1.3"/><rect x="839.8" y="727.9" width="1.0" height="1.0"/><rect x="815.1" y="731.2" width="1.3" height="1.3"/><rect x="826.8" y="738.6" width="1.2" height="1.2"/><rect x="817.8" y="749.3" width="1.1" height="1.1"/><rect x="839.1" y="735.8" width="1.2" height="1.2"/><rect x="843.3" y="732.3" width="1.0" height="1.0"/><rect x="839.7" y="740.4" width="1.5" height="1.5"/><rect x="818.5" y="728.4" width="1.6" height="1.6"/><rect x="827.4" y="727.1" width="1.0" height="1.0"/><rect x="814.2" y="751.4" width="0.9" height="0.9"/><rect x="815.5" y="724.9" width="1.3" height="1.3"/><rect x="819.2" y="740.8" width="1.3" height="1.3"/><rect x="809.7" y="752.8" width="2.0" height="2.0"/><rect x="834.0" y="741.1" width="1.2" height="1.2"/><rect x="829.0" y="744.2" width="1.5" height="1.5"/><rect x="808.1" y="753.5" width="0.9" height="0.9"/><rect x="822.6" y="722.4" width="0.9" height="0.9"/><rect x="810.3" y="733.9" width="0.9" height="0.9"/><rect x="809.7" y="751.1" width="1.6" height="1.6"/><rect x="812.0" y="720.1" width="1.6" height="1.6"/><rect x="816.9" y="749.0" width="1.6" height="1.6"/><rect x="831.4" y="740.3" width="1.5" height="1.5"/><rect x="807.0" y="736.9" width="2.0" height="2.0"/><rect x="834.7" y="742.6" width="1.2" height="1.2"/><rect x="842.5" y="734.2" width="0.8" height="0.8"/><rect x="814.5" y="732.4" width="0.9" height="0.9"/><rect x="819.5" y="748.5" width="1.6" height="1.6"/><rect x="809.1" y="744.1" width="1.1" height="1.1"/><rect x="816.8" y="750.8" width="2.0" height="2.0"/><rect x="811.1" y="727.7" width="1.3" height="1.3"/><rect x="824.9" y="746.2" width="0.8" height="0.8"/><rect x="809.5" y="729.7" width="0.9" height="0.9"/><rect x="834.2" y="734.0" width="1.0" height="1.0"/><rect x="830.3" y="743.3" width="1.5" height="1.5"/><rect x="843.3" y="732.8" width="0.8" height="0.8"/><rect x="810.0" y="747.1" width="0.9" height="0.9"/><rect x="815.2" y="733.2" width="1.6" height="1.6"/><rect x="816.7" y="744.5" width="1.1" height="1.1"/><rect x="824.6" y="737.6" width="1.0" height="1.0"/><rect x="809.5" y="738.8" width="1.6" height="1.6"/><rect x="807.3" y="732.1" width="0.9" height="0.9"/><rect x="822.5" y="730.1" width="2.0" height="2.0"/><rect x="808.6" y="718.5" width="1.3" height="1.3"/><rect x="824.1" y="741.0" width="1.5" height="1.5"/><rect x="814.5" y="740.8" width="0.9" height="0.9"/><rect x="818.3" y="750.1" width="1.6" height="1.6"/><rect x="809.8" y="740.3" width="1.6" height="1.6"/><rect x="810.7" y="752.7" width="1.6" height="1.6"/><rect x="807.8" y="747.1" width="2.0" height="2.0"/><rect x="817.9" y="735.1" width="1.6" height="1.6"/><rect x="819.5" y="748.8" width="0.9" height="0.9"/><rect x="825.0" y="743.1" width="1.2" height="1.2"/><rect x="807.9" y="739.3" width="2.0" height="2.0"/><rect x="812.6" y="741.3" width="1.3" height="1.3"/><rect x="830.2" y="742.6" width="1.0" height="1.0"/><rect x="837.9" y="736.1" width="1.2" height="1.2"/><rect x="811.2" y="748.8" width="0.9" height="0.9"/><rect x="809.2" y="744.4" width="0.9" height="0.9"/><rect x="813.0" y="746.0" width="2.0" height="2.0"/><rect x="810.5" y="738.3" width="1.3" height="1.3"/><rect x="807.0" y="753.0" width="0.9" height="0.9"/><rect x="815.7" y="735.8" width="2.0" height="2.0"/><rect x="809.5" y="748.0" width="1.3" height="1.3"/><rect x="830.2" y="742.7" width="0.8" height="0.8"/><rect x="812.4" y="750.7" width="1.6" height="1.6"/><rect x="825.1" y="740.8" width="1.5" height="1.5"/><rect x="823.3" y="744.9" width="0.9" height="0.9"/><rect x="809.6" y="753.7" width="2.0" height="2.0"/><rect x="812.2" y="752.0" width="0.9" height="0.9"/><rect x="820.5" y="737.4" width="1.6" height="1.6"/><rect x="808.4" y="751.2" width="1.1" height="1.1"/><rect x="809.9" y="747.8" width="1.1" height="1.1"/><rect x="807.9" y="724.8" width="1.1" height="1.1"/><rect x="811.2" y="722.0" width="0.9" height="0.9"/><rect x="813.9" y="741.0" width="2.0" height="2.0"/><rect x="810.2" y="751.5" width="0.9" height="0.9"/><rect x="809.7" y="743.4" width="0.9" height="0.9"/><rect x="812.9" y="743.4" width="0.9" height="0.9"/><rect x="813.7" y="738.7" width="1.3" height="1.3"/><rect x="812.6" y="729.8" width="2.0" height="2.0"/><rect x="822.8" y="737.7" width="0.9" height="0.9"/><rect x="816.8" y="743.9" width="1.1" height="1.1"/><rect x="815.0" y="735.0" width="2.0" height="2.0"/><rect x="834.7" y="724.3" width="1.5" height="1.5"/><rect x="809.2" y="733.7" width="1.1" height="1.1"/><rect x="828.7" y="739.3" width="0.8" height="0.8"/><rect x="808.0" y="723.3" width="0.9" height="0.9"/><rect x="809.5" y="741.6" width="0.9" height="0.9"/><rect x="831.1" y="735.8" width="1.0" height="1.0"/><rect x="808.6" y="721.5" width="2.0" height="2.0"/><rect x="807.1" y="740.9" width="1.3" height="1.3"/><rect x="833.9" y="729.2" width="1.0" height="1.0"/><rect x="809.9" y="728.5" width="0.9" height="0.9"/><rect x="825.5" y="745.4" width="1.5" height="1.5"/><rect x="834.7" y="730.3" width="0.8" height="0.8"/></g>
<polygon points="658.8,622.5 736.3,586.8 809.0,595.7 806.7,760.0 737.0,808.0 659.9,781.7" fill="#555" stroke="#222" stroke-width="2.6" stroke-linejoin="round" opacity=".75" filter="url(#blur07)"/>
<polygon points="658.8,622.5 736.3,586.8 809.0,595.7 745.5,630.5" fill="url(#srvTop)"/>
<polygon points="745.5,630.5 809.0,595.7 806.7,760.0 737.0,808.0" fill="url(#srvSide)"/>
<path d="M745.8,715 C756,708.5 790,696 809,678.4 L806.7,760 L737,808 L738.5,740 C740,728 743,722 745.8,716 Z" fill="url(#srvSide2)"/>
<polygon points="751.3,634.9 772,624.2 772,657 751.3,668.5" fill="url(#srvVent)"/>
<polygon points="658.8,622.5 741.0,629.7 736.7,807.7 659.9,781.7" fill="url(#srvFront)"/>
<polygon points="734.5,629 746,630.6 747.6,714 739,742 737.2,808 732.5,806 735.5,740" fill="url(#srvBev)"/>
<polygon points="658.8,622.5 745.5,630.5 741,633 659,625.5" fill="#e9ebef" opacity=".9"/>
<polygon points="668.5,629.2 729.2,641.3 727.7,794.3 667.4,775.7" fill="#a3a7af" stroke="#6a6e76" stroke-width="2"/>
<polygon points="671.5,633.0 726.1,644.1 726.0,653.8 671.4,642.4" fill="#d9dce2" stroke="#7d8189" stroke-width=".8"/>
<polygon points="673.9,636.8 712.1,644.6 712.1,648.2 673.9,640.3" fill="#b3b7bf"/>
<polygon points="713.4,644.2 723.7,646.3 723.6,650.9 713.3,648.7" fill="#2fe03a" stroke="#b7f5b0" stroke-width=".5"/>
<polygon points="671.4,648.6 726.0,660.2 725.9,670.3 671.3,658.3" fill="#d9dce2" stroke="#7d8189" stroke-width=".8"/>
<polygon points="673.8,652.4 712.0,660.6 712.0,664.2 673.8,655.9" fill="#b3b7bf"/>
<polygon points="713.2,660.2 723.5,662.5 723.5,667.0 713.2,664.8" fill="#2fe03a" stroke="#b7f5b0" stroke-width=".5"/>
<polygon points="670.1,661.1 727.1,673.8 727.0,676.8 670.1,664.0" fill="#7d8189"/>
<polygon points="689.7,671.0 691.6,671.4 690.6,780.6 688.8,780.1" fill="#70747c"/>
<polygon points="709.1,675.4 710.6,675.7 709.6,786.5 708.1,786.0" fill="#8a8e96"/>
<polygon points="676.1,669.4 688.2,672.1 688.2,676.9 676.1,674.1" fill="#f5f6f8"/>
<polygon points="672.4,669.1 674.8,669.7 674.7,672.6 672.4,672.1" fill="#55b860"/>
<polygon points="695.5,673.8 708.2,676.7 708.2,681.5 695.4,678.6" fill="#f5f6f8"/>
<polygon points="714.3,678.1 725.2,680.6 725.1,685.4 714.2,682.9" fill="#f5f6f8"/>
<polygon points="710.6,677.8 712.9,678.4 712.9,681.4 710.6,680.9" fill="#55b860"/>
<polygon points="676.0,677.0 688.1,679.8 688.1,684.6 676.0,681.7" fill="#f5f6f8"/>
<polygon points="672.4,676.7 674.7,677.3 674.7,680.2 672.4,679.7" fill="#55b860"/>
<polygon points="695.4,681.5 708.1,684.5 708.1,689.3 695.4,686.3" fill="#f5f6f8"/>
<polygon points="691.8,681.3 694.1,681.8 694.1,684.8 691.7,684.2" fill="#55b860"/>
<polygon points="714.2,685.9 725.1,688.4 725.0,693.3 714.1,690.7" fill="#f5f6f8"/>
<polygon points="710.6,685.6 712.9,686.2 712.8,689.2 710.5,688.7" fill="#55b860"/>
<polygon points="676.0,684.6 688.1,687.5 688.0,692.3 675.9,689.3" fill="#f5f6f8"/>
<polygon points="672.3,684.3 674.6,684.9 674.6,687.8 672.3,687.3" fill="#55b860"/>
<polygon points="695.3,689.2 708.1,692.3 708.0,697.1 695.3,694.0" fill="#f5f6f8"/>
<polygon points="691.7,689.0 694.0,689.5 694.0,692.5 691.7,691.9" fill="#55b860"/>
<polygon points="714.1,693.7 725.0,696.3 725.0,701.2 714.1,698.6" fill="#f5f6f8"/>
<polygon points="710.5,693.5 712.8,694.0 712.8,697.0 710.5,696.5" fill="#55b860"/>
<polygon points="675.9,692.2 688.0,695.2 688.0,699.9 675.9,696.9" fill="#f5f6f8"/>
<polygon points="672.3,691.9 674.6,692.5 674.6,695.4 672.3,694.8" fill="#55b860"/>
<polygon points="695.3,696.9 708.0,700.1 707.9,704.9 695.2,701.7" fill="#f5f6f8"/>
<polygon points="714.0,701.5 724.9,704.2 724.9,709.1 714.0,706.4" fill="#f5f6f8"/>
<polygon points="710.4,701.3 712.7,701.8 712.7,704.8 710.4,704.3" fill="#55b860"/>
<polygon points="675.9,699.8 688.0,702.8 687.9,707.6 675.8,704.5" fill="#f5f6f8"/>
<polygon points="695.2,704.7 707.9,707.8 707.9,712.7 695.2,709.4" fill="#f5f6f8"/>
<polygon points="691.6,704.3 693.9,704.9 693.9,707.9 691.6,707.3" fill="#55b860"/>
<polygon points="714.0,709.4 724.9,712.1 724.8,717.0 713.9,714.2" fill="#f5f6f8"/>
<polygon points="710.3,709.1 712.6,709.6 712.6,712.7 710.3,712.1" fill="#55b860"/>
<polygon points="675.8,707.4 687.9,710.5 687.9,715.3 675.8,712.1" fill="#f5f6f8"/>
<polygon points="695.1,712.4 707.9,715.6 707.8,720.5 695.1,717.2" fill="#f5f6f8"/>
<polygon points="691.5,712.0 693.8,712.6 693.8,715.6 691.5,715.0" fill="#55b860"/>
<polygon points="713.9,717.2 724.8,720.0 724.7,724.9 713.9,722.0" fill="#f5f6f8"/>
<polygon points="675.7,715.0 687.8,718.2 687.8,723.0 675.7,719.8" fill="#f5f6f8"/>
<polygon points="672.1,714.7 674.4,715.3 674.4,718.2 672.1,717.6" fill="#55b860"/>
<polygon points="695.1,720.1 707.8,723.4 707.7,728.2 695.0,724.9" fill="#f5f6f8"/>
<polygon points="713.8,725.0 724.7,727.8 724.7,732.7 713.8,729.8" fill="#f5f6f8"/>
<polygon points="675.7,722.6 687.8,725.9 687.7,730.6 675.6,727.4" fill="#f5f6f8"/>
<polygon points="695.0,727.8 707.7,731.2 707.7,736.0 695.0,732.6" fill="#f5f6f8"/>
<polygon points="691.4,727.4 693.7,728.1 693.7,731.0 691.4,730.4" fill="#55b860"/>
<polygon points="713.8,732.8 724.6,735.7 724.6,740.6 713.7,737.7" fill="#f5f6f8"/>
<polygon points="675.6,730.3 687.7,733.5 687.7,738.3 675.6,735.0" fill="#f5f6f8"/>
<polygon points="672.0,729.9 674.3,730.5 674.3,733.4 672.0,732.8" fill="#55b860"/>
<polygon points="695.0,735.5 707.6,739.0 707.6,743.8 694.9,740.3" fill="#f5f6f8"/>
<polygon points="713.7,740.6 724.6,743.6 724.5,748.5 713.6,745.5" fill="#f5f6f8"/>
<polygon points="675.6,737.9 687.6,741.2 687.6,746.0 675.5,742.6" fill="#f5f6f8"/>
<polygon points="694.9,743.2 707.6,746.8 707.5,751.6 694.8,748.0" fill="#f5f6f8"/>
<polygon points="713.6,748.5 724.5,751.5 724.4,756.4 713.6,753.3" fill="#f5f6f8"/>
<polygon points="675.5,745.5 687.6,748.9 687.5,753.7 675.5,750.2" fill="#f5f6f8"/>
<polygon points="694.8,751.0 707.5,754.6 707.5,759.4 694.8,755.7" fill="#f5f6f8"/>
<polygon points="713.5,756.3 724.4,759.4 724.4,764.3 713.5,761.1" fill="#f5f6f8"/>
<polygon points="675.4,753.1 687.5,756.6 687.5,761.3 675.4,757.8" fill="#f5f6f8"/>
<polygon points="694.8,758.7 707.4,762.4 707.4,767.2 694.7,763.5" fill="#f5f6f8"/>
<polygon points="713.5,764.1 724.3,767.3 724.3,772.1 713.4,769.0" fill="#f5f6f8"/>
<polygon points="675.4,760.7 687.4,764.3 687.4,769.0 675.3,765.4" fill="#f5f6f8"/>
<polygon points="694.7,766.4 707.4,770.1 707.3,775.0 694.6,771.2" fill="#f5f6f8"/>
<polygon points="713.4,771.9 724.3,775.1 724.2,780.0 713.3,776.8" fill="#f5f6f8"/>
<polygon points="675.3,768.3 687.4,771.9 687.3,776.7 675.3,773.0" fill="#f5f6f8"/>
<polygon points="694.6,774.1 707.3,777.9 707.2,782.8 694.6,778.9" fill="#f5f6f8"/>
<polygon points="713.3,779.7 724.2,783.0 724.1,787.9 713.3,784.6" fill="#f5f6f8"/></g>
<text x="665.7" y="846.6" font-family="'Liberation Sans','DejaVu Sans',sans-serif" font-size="27.7" font-style="italic" fill="#000" textLength="143.0" lengthAdjust="spacing">CDX server</text>
</svg>
</body></html>
